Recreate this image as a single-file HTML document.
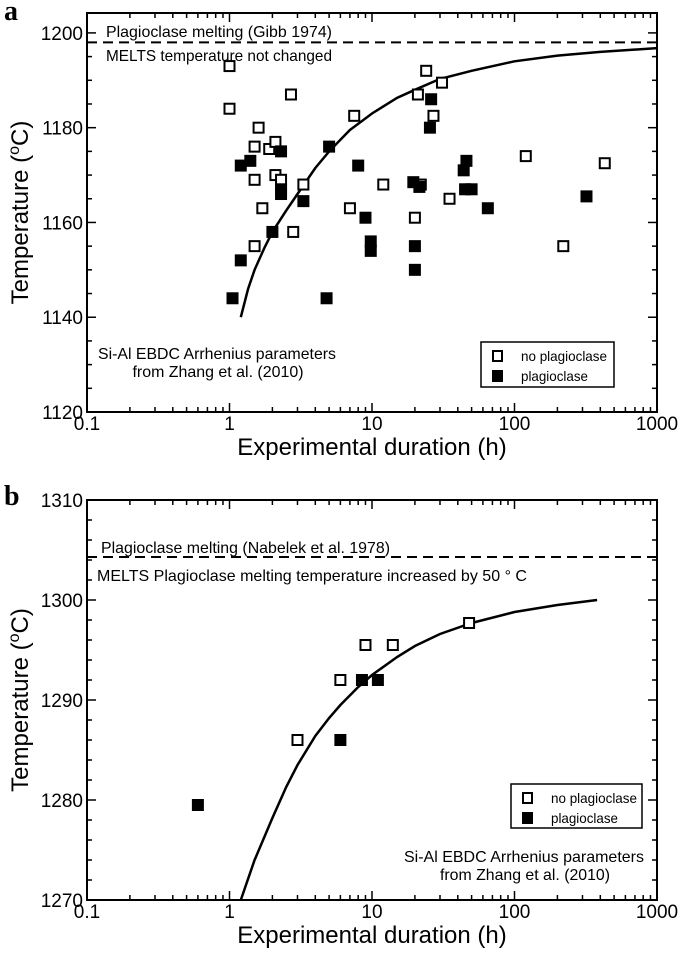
<!DOCTYPE html>
<html><head><meta charset="utf-8"><style>
body{margin:0;background:#fff;width:685px;height:952px;overflow:hidden}
svg{font-family:"Liberation Sans",Arial,sans-serif}
</style></head><body>
<svg id="fig" width="685" height="952" xmlns="http://www.w3.org/2000/svg"></svg>
<script>
// ---- Panel a data ----
const aOpenX=[1,1,1.6,1.5,1.9,2.1,1.5,2.1,2.3,1.7,1.5,2.7,2.8,3.3,7.5,7,12,20,21,22,24,27,31,35,120,220,430];
const aOpenY=[1193,1184,1180,1176,1175.5,1177,1169,1170,1169,1163,1155,1187,1158,1168,1182.5,1163,1168,1161,1187,1168,1192,1182.5,1189.5,1165,1174,1155,1172.5];
const aFillX=[1.2,1.4,2.3,2.3,2.3,1.2,1.05,2,3.3,5,4.8,8,9,9.8,9.8,19.5,20,20,21.5,26,25.5,44,46,45,50,65,320];
const aFillY=[1172,1173,1175,1167,1166,1152,1144,1158,1164.5,1176,1144,1172,1161,1156,1154,1168.5,1155,1150,1167.5,1186,1180,1171,1173,1167,1167,1163,1165.5];
const aCurveX=[1.2,1.35,1.5,1.75,2,2.5,3,4,5,7,10,15,20,30,50,100,200,400,1000];
const aCurveY=[1140,1146,1150,1154.5,1158,1162.5,1166,1171.5,1175,1179.5,1183,1186.3,1188,1190.3,1192,1194,1195.2,1196,1196.8];
const aYTicks=[1120,1140,1160,1180,1200];
// ---- Panel b data ----
const bOpenX=[3,6,9,14,48];
const bOpenY=[1286,1292,1295.5,1295.5,1297.7];
const bFillX=[0.6,6,8.5,11];
const bFillY=[1279.5,1286,1292,1292];
const bCurveX=[1.2,1.5,2,2.5,3,4,5,6,8,10,15,20,30,50,100,200,380];
const bCurveY=[1270,1274,1278.2,1281.3,1283.5,1286.4,1288.2,1289.5,1291.3,1292.5,1294.3,1295.4,1296.6,1297.7,1298.8,1299.5,1300];
const bYTicks=[1270,1280,1290,1300,1310];
const xTickLabels=["0.1","1","10","100","1000"];

const NS="http://www.w3.org/2000/svg";
const svg=document.getElementById('fig');
function mk(tag,attrs,parent){const e=document.createElementNS(NS,tag);for(const k in attrs)e.setAttribute(k,attrs[k]);(parent||svg).appendChild(e);return e;}
function txt(s,x,y,size,anchor,parent,extra){const t=mk('text',Object.assign({x:x,y:y,'font-size':size,'text-anchor':anchor||'start',fill:'#000'},extra||{}),parent);t.textContent=s;return t;}

function panel(o){
  const g=mk('g',{});
  
  
  const L=87,R=657,T=o.top,B=o.bottom;
  const xs=v=>L+(Math.log10(v)+1)/4*(R-L);
  const ys=v=>B-(v-o.ymin)/(o.ymax-o.ymin)*(B-T);
  for(let d=-1;d<3;d++){for(let m=1;m<10;m++){const v=m*Math.pow(10,d);const x=xs(v);const len=m==1?9:5;
    mk('line',{x1:x,y1:B,x2:x,y2:B-len,stroke:'#000','stroke-width':1.5},g);
    mk('line',{x1:x,y1:T,x2:x,y2:T+len,stroke:'#000','stroke-width':1.5},g);}}
  for(let v=o.ymin;v<=o.ymax+1e-9;v+=o.minor){const y=ys(v);const maj=Math.abs((v-o.ymin)%o.major)<1e-6;const len=maj?9:5;
    mk('line',{x1:L,y1:y,x2:L+len,y2:y,stroke:'#000','stroke-width':1.5},g);
    mk('line',{x1:R,y1:y,x2:R-len,y2:y,stroke:'#000','stroke-width':1.5},g);}
  xTickLabels.forEach(s=>{const t=txt(s,xs(parseFloat(s)),B+18,19,'middle',g);
    
    });
  o.yticks.forEach(v=>{const t=txt(String(v),L-4,ys(v)+7,19,'end',g);
    
    });
  const dl=mk('line',{x1:L,x2:R,y1:ys(o.dash),y2:ys(o.dash),stroke:'#000','stroke-width':2,'stroke-dasharray':'10,6'},g);
  
  
  let d='';o.cx.forEach((v,i)=>{d+=(i?'L':'M')+xs(v).toFixed(1)+','+ys(o.cy[i]).toFixed(1);});
  const c=mk('path',{d:d,fill:'none',stroke:'#000','stroke-width':2.5},g);
  
  
  o.ox.forEach((v,i)=>{const r=mk('rect',{x:xs(v)-5,y:ys(o.oy[i])-5,width:10,height:10,fill:'#fff',stroke:'#000','stroke-width':2},g);
    
    });
  o.fx.forEach((v,i)=>{const r=mk('rect',{x:xs(v)-6,y:ys(o.fy[i])-6,width:12,height:12,fill:'#000'},g);
    
    });
  mk('rect',{x:L,y:T,width:R-L,height:B-T,fill:'none',stroke:'#000','stroke-width':2},g);
  const xt=txt('Experimental duration (h)',372,B+43,24,'middle',g);
  
  
  const cy=(T+B)/2;
  const yt=mk('text',{x:0,y:0,'font-size':24,'text-anchor':'middle',transform:`translate(28,${cy}) rotate(-90)`},g);
  yt.innerHTML='Temperature (<tspan dy="-9" font-size="16">o</tspan><tspan dy="9">C)</tspan>';
  
  
  const pl=txt(o.letter,4,o.letterY,28,'start',g,{'font-weight':'bold','font-family':'Liberation Serif,serif'});
  
  
  const lg=mk('g',{},g);
  
  
  mk('rect',{x:o.lx,y:o.ly,width:o.lw,height:o.lh,fill:'#fff',stroke:'#000','stroke-width':1.5},lg);
  mk('rect',{x:o.lx+12,y:o.ly+9,width:9,height:10,fill:'#fff',stroke:'#000','stroke-width':2},lg);
  mk('rect',{x:o.lx+11,y:o.ly+28,width:11,height:12,fill:'#000'},lg);
  txt('no plagioclase',o.lx+40,o.ly+19,14,'start',lg,{textLength:86,lengthAdjust:'spacingAndGlyphs'});
  txt('plagioclase',o.lx+40,o.ly+39,14,'start',lg,{textLength:67,lengthAdjust:'spacingAndGlyphs'});
  o.texts.forEach(t=>{const e=txt(t[0],t[1],t[2],16,t[3],g,{textLength:t[4],lengthAdjust:'spacingAndGlyphs'});
    
    });
  return g;
}
panel({name:'panel-a',letter:'a',letterY:20,top:13,bottom:412,ymin:1120,ymax:1204.2,minor:5,major:20,yticks:aYTicks,dash:1198,
  cx:aCurveX,cy:aCurveY,ox:aOpenX,oy:aOpenY,fx:aFillX,fy:aFillY,lx:481,ly:342,lw:133,lh:45,
  texts:[['Plagioclase melting (Gibb 1974)',106,37,'start',226],['MELTS temperature not changed',106,61,'start',226],
  ['Si-Al EBDC Arrhenius parameters',217,359,'middle',238],['from Zhang et al. (2010)',218,377,'middle',171]]});
panel({name:'panel-b',letter:'b',letterY:505,top:500,bottom:900,ymin:1270,ymax:1310,minor:2,major:10,yticks:bYTicks,dash:1304.3,
  cx:bCurveX,cy:bCurveY,ox:bOpenX,oy:bOpenY,fx:bFillX,fy:bFillY,lx:511,ly:784,lw:131,lh:44,
  texts:[['Plagioclase melting (Nabelek et al. 1978)',101,553,'start',289],['MELTS Plagioclase melting temperature increased by 50 \u00B0 C',97,581,'start',430],
  ['Si-Al EBDC Arrhenius parameters',524,862,'middle',240],['from Zhang et al. (2010)',525,880,'middle',170]]});
</script>
</body></html>
